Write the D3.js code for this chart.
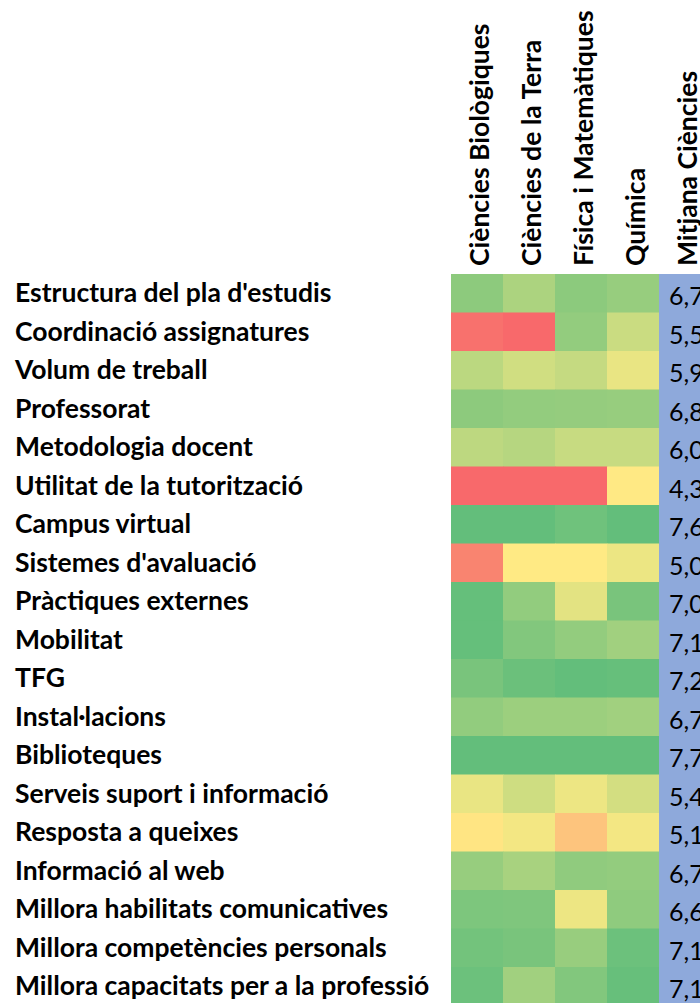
<!DOCTYPE html>
<html>
<head>
<meta charset="utf-8">
<script src="https://cdn.jsdelivr.net/npm/d3@7"></script>
<style>
  body { margin: 0; background: #fff; }
  svg { display: block; }
</style>
</head>
<body>
<div id="heatmap"></div>
<script>

//////// DATA ////////
var rows = [
    "Estructura del pla d'estudis", "Coordinació assignatures", "Volum de treball",
    "Professorat", "Metodologia docent", "Utilitat de la tutorització", "Campus virtual",
    "Sistemes d'avaluació", "Pràctiques externes", "Mobilitat", "TFG", "Instal·lacions",
    "Biblioteques", "Serveis suport i informació", "Resposta a queixes", "Informació al web",
    "Millora habilitats comunicatives", "Millora competències personals",
    "Millora capacitats per a la professió"
];

var departments = ["Ciències Biològiques", "Ciències de la Terra", "Física i Matemàtiques", "Química"];
var averageLabel = "Mitjana Ciències";

var biologiques = [7.40, 3.67, 6.95, 7.40, 6.93, 3.50, 7.80, 4.09, 7.78, 7.78, 7.59, 7.35, 7.80, 6.51, 6.16, 7.30, 7.55, 7.65, 7.71];
var terra       = [7.10, 3.50, 6.75, 7.34, 7.00, 3.50, 7.80, 6.27, 7.35, 7.50, 7.72, 7.25, 7.80, 6.77, 6.42, 7.14, 7.53, 7.59, 7.20];
var fisica      = [7.41, 7.34, 6.86, 7.32, 6.84, 3.50, 7.68, 6.27, 6.57, 7.34, 7.80, 7.25, 7.80, 6.47, 5.46, 7.37, 6.47, 7.29, 7.50];
var quimica     = [7.30, 6.81, 6.51, 7.30, 6.84, 6.25, 7.80, 6.48, 7.59, 7.20, 7.77, 7.20, 7.80, 6.72, 6.42, 7.34, 7.38, 7.71, 7.76];
var mitjana     = [6.7, 5.5, 5.9, 6.8, 6.0, 4.3, 7.6, 5.0, 7.0, 7.1, 7.2, 6.7, 7.7, 5.4, 5.1, 6.7, 6.6, 7.1, 7.1];

var series = [biologiques, terra, fisica, quimica];

// flatten into cells
var cells = [];
rows.forEach(function(r, i) {
    departments.forEach(function(dep, j) {
        cells.push({row: r, column: dep, value: series[j][i]});
    });
});


//////// CANVAS ////////
var width = 700, height = 1003;
var fontFamily = "Lato, 'Open Sans', sans-serif";
var labelSize = 26.5;

var svg = d3.select("#heatmap").append("svg")
    .attr("width", width)
    .attr("height", height)
    .style("font-family", fontFamily);


//////// SCALES ////////
var xScale = d3.scaleBand()
    .domain(departments.concat([averageLabel]))
    .range([451, 451 + 52 * 5]);

var yScale = d3.scaleBand()
    .domain(rows)
    .range([274, 274 + 38.5 * rows.length]);

// three colour scale: min red, mid yellow, max green
var colorScale = d3.scaleLinear()
    .domain([3.5, 6.3, 7.8])
    .range(["#F8696B", "#FFEB84", "#63BE7B"])
    .clamp(true);


//////// CELLS ////////
svg.append("g")
    .selectAll("rect")
    .data(cells)
    .enter().append("rect")
        .attr("x", function(d) { return xScale(d.column); })
        .attr("y", function(d) { return yScale(d.row); })
        .attr("width", xScale.bandwidth() + 0.5)
        .attr("height", yScale.bandwidth() + 0.5)
        .attr("fill", function(d) { return colorScale(d.value); });

// average column (blue)
var avg = svg.append("g");

avg.selectAll("rect")
    .data(mitjana)
    .enter().append("rect")
        .attr("x", xScale(averageLabel))
        .attr("y", function(d, i) { return yScale(rows[i]); })
        .attr("width", xScale.bandwidth())
        .attr("height", yScale.bandwidth() + 0.5)
        .attr("fill", "#8EA9DB");

avg.selectAll("text")
    .data(mitjana)
    .enter().append("text")
        .attr("x", xScale(averageLabel) + 10)
        .attr("y", function(d, i) { return yScale(rows[i]) + yScale.bandwidth() / 2 + 12; })
        .attr("font-size", 25)
        .attr("fill", "#000")
        .text(function(d) { return d.toFixed(1).replace(".", ","); });


//////// ROW LABELS ////////
svg.append("g")
    .selectAll("text")
    .data(rows)
    .enter().append("text")
        .attr("x", 15)
        .attr("y", function(d) { return yScale(d) + yScale.bandwidth() / 2; })
        .attr("dy", "0.34em")
        .attr("font-size", labelSize)
        .attr("font-weight", "bold")
        .attr("fill", "#000")
        .text(function(d) { return d; });


//////// COLUMN HEADERS ////////
svg.append("g")
    .selectAll("text")
    .data(xScale.domain())
    .enter().append("text")
        .attr("transform", function(d) {
            return "translate(" + (xScale(d) + xScale.bandwidth() / 2 + 3) + ",266) rotate(-90)";
        })
        .attr("dy", "0.34em")
        .attr("text-anchor", "start")
        .attr("font-size", labelSize)
        .attr("font-weight", "bold")
        .attr("fill", "#000")
        .text(function(d) { return d; });

</script>
</body>
</html>
